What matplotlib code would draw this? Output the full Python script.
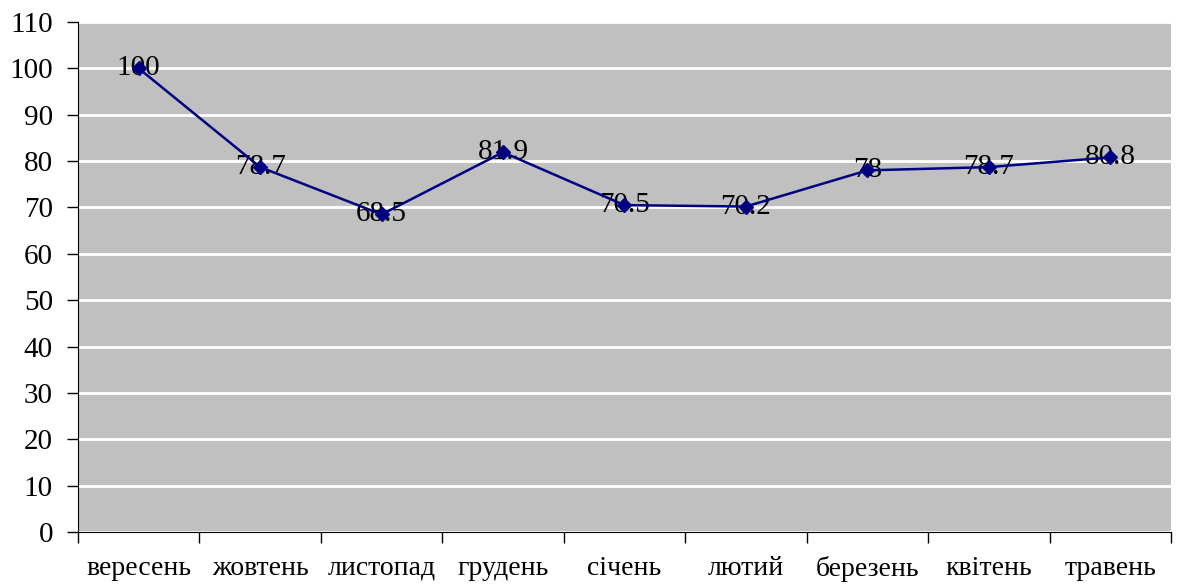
import matplotlib
matplotlib.use("Agg")
import matplotlib.pyplot as plt

months = ["вересень", "жовтень", "листопад", "грудень", "січень",
          "лютий", "березень", "квітень", "травень"]
values = [100, 78.7, 68.5, 81.9, 70.5, 70.2, 78, 78.7, 80.8]
labels = ["100", "78.7", "68.5", "81.9", "70.5", "70.2", "78", "78.7", "80.8"]
y_ticks = list(range(0, 111, 10))

plt.rcParams['font.family'] = ['Liberation Serif', 'DejaVu Serif']

fig = plt.figure(figsize=(11.81, 5.85), dpi=100)
ax = fig.add_axes([0.066, 0.0906, 0.9255, 0.8718])
ax.set_facecolor('#C0C0C0')

x = [i + 0.5 for i in range(len(months))]
ax.plot(x, values, color='#000080', lw=1.8, marker='D', markersize=7, zorder=3)
for xi, v, t in zip(x, values, labels):
    ax.text(xi, v, t, ha='center', va='center', fontsize=21, zorder=2)

ax.set_xlim(0, len(months))
ax.set_ylim(0, 110)
ax.set_yticks(y_ticks)
ax.set_yticklabels([str(t) for t in y_ticks], fontsize=21)
ax.yaxis.grid(True, color='white', lw=2)
ax.set_axisbelow(True)

# category boundaries as ticks, names centred in between
ax.set_xticks(range(len(months) + 1))
ax.set_xticklabels([])
ax.set_xticks(x, minor=True)
ax.set_xticklabels(months, minor=True, fontsize=20)
ax.tick_params(axis='x', which='minor', length=0, pad=17)
ax.tick_params(axis='x', which='major', length=8, width=1)
ax.tick_params(axis='y', length=8, width=1, pad=10)

for s in ['top', 'right']:
    ax.spines[s].set_visible(False)

fig.savefig("out.png", dpi=100)
